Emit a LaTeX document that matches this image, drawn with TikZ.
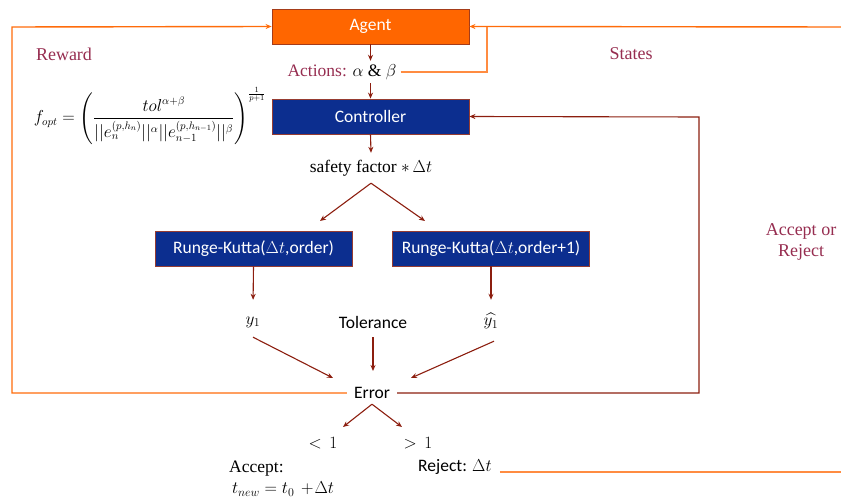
\documentclass[tikz,border=0pt]{standalone}
\usepackage{amsmath}
\usepackage{fontspec}
\setmainfont{Liberation Serif}
\newfontfamily\calib{Carlito}
\usetikzlibrary{arrows.meta}
\definecolor{agentor}{RGB}{255,102,0}
\definecolor{agentbd}{RGB}{165,60,25}
\definecolor{ctrlblue}{RGB}{12,46,143}
\definecolor{boxbd}{RGB}{150,60,50}
\definecolor{arrred}{RGB}{140,30,15}
\definecolor{lblmaroon}{RGB}{150,45,80}
\definecolor{orA}{RGB}{255,108,10}
\definecolor{orB}{RGB}{255,140,65}
\tikzset{
  blk/.style={draw=boxbd, line width=0.8pt, minimum width=197pt, minimum height=35pt,
    inner sep=0pt, text=white, font=\calib\fontsize{17.5}{20}\selectfont},
  agentbox/.style={blk, fill=agentor, draw=agentbd},
  bluebox/.style={blk, fill=ctrlblue},
  arr/.style={draw=arrred, line width=1.1pt, -{Stealth[length=6pt,width=5pt]}},
  oline/.style={draw=orA, line width=1.4pt},
  olineb/.style={draw=orB, line width=1.4pt},
  oarr/.style={oline, -{Stealth[length=6pt,width=5pt]}},
  lbl/.style={font=\fontsize{18}{21}\selectfont, text=lblmaroon, inner sep=0pt},
  ctext/.style={font=\calib\fontsize{17.5}{20}\selectfont, inner sep=0pt},
  stext/.style={font=\fontsize{17.5}{20}\selectfont, inner sep=0pt},
}
\begin{document}
\begin{tikzpicture}[x=1pt,y=-1pt]
\useasboundingbox (0,0) rectangle (841,502);
% boxes
\node[agentbox] (agent) at (370.5,26.5) {Agent};
\node[bluebox] (ctrl) at (370.5,116.5) {Controller};
\node[bluebox] (rk1) at (253.5,248.5) {Runge-Kutta($\Delta t$,order)};
\node[bluebox] (rk2) at (491,248.5) {Runge-Kutta($\Delta t$,order+1)};
% labels
\node[lbl] (reward) at (64,54) {Reward};
\node[lbl] (states) at (631,54) {States};
\node[lbl, align=center] (ar) at (801,242) {Accept or\\Reject};
\node[stext, minimum height=22pt, inner xsep=4pt] (act) at (342,72)
  {\textcolor{lblmaroon}{Actions:} $\alpha$ \& $\beta$};
\node[font=\fontsize{16}{19}\selectfont, inner sep=0pt] (fopt) at (150,116)
  {$f_{opt}=\left(\dfrac{tol^{\alpha+\beta}}{||e_n^{(p,h_n)}||^{\alpha}||e_{n-1}^{(p,h_{n-1})}||^{\beta}}\right)^{\frac{1}{p+1}}$};
\node[stext, minimum height=30pt] (sf) at (371,168) {safety factor $*\,\Delta t$};
\node[stext, minimum height=30pt] (y1) at (253,322) {$y_1$};
\node[ctext, minimum height=30pt] (tol) at (373,322) {Tolerance};
\node[stext, minimum height=30pt] (yh) at (491,321) {$\widehat{y_1}$};
\node[ctext, minimum height=22pt, inner xsep=7pt] (err) at (372,393) {Error};
\node[stext, minimum height=30pt] (lt) at (323,443) {$<\,1$};
\node[stext, minimum height=30pt] (gt) at (418,443) {$>\,1$};
\node[stext, anchor=west, align=left] (acc) at (229,479) {Accept:\\[1pt] \,$t_{new}=t_0\,+\!\Delta t$};
\node[ctext, anchor=west, inner xsep=0pt] (rej) at (418,467) {Reject: $\Delta t$};
% coordinates
\coordinate (cl) at (12,27);
\coordinate (cr) at (841,27);
\coordinate (cj) at (487,27);
\coordinate (cc) at (699,117);
\coordinate (rr) at (841,472);
\coordinate (t1) at (320,221);
\coordinate (t2) at (425,221);
\coordinate (e1) at (333,378);
\coordinate (e2) at (373,371);
\coordinate (e3) at (411,378);
\coordinate (b1) at (343,427);
\coordinate (b2) at (402,427);
% orange connectors
\draw[oarr] (err.west) -| (cl) -- (agent.west);
\draw[oarr] (cr) -- (agent.east);
\draw[olineb] (act.east) -| (cj);
\draw[olineb] ([xshift=8pt]rej.east |- rr) -- (rr);
% red connectors
\draw[arr] (agent.south) -- (agent.south |- act.north);
\draw[arr] (ctrl.north |- act.south) -- (ctrl.north);
\draw[arr] (ctrl.south) -- (sf.north);
\draw[arr] (sf.south) -- (t1);
\draw[arr] (sf.south) -- (t2);
\draw[arr, shorten >=7pt] (rk1.south) -- (y1.north);
\draw[arr, shorten >=6pt] (rk2.south) -- (yh.north);
\draw[arr] (y1.south) -- (e1);
\draw[arr] (tol.south) -- (e2);
\draw[arr] ([xshift=3pt,yshift=-5pt]yh.south) -- (e3);
\draw[arr] (err.east) -| (cc) -- (ctrl.east);
\draw[arr] (err.south) -- (b1);
\draw[arr] (err.south) -- (b2);
\end{tikzpicture}
\end{document}
